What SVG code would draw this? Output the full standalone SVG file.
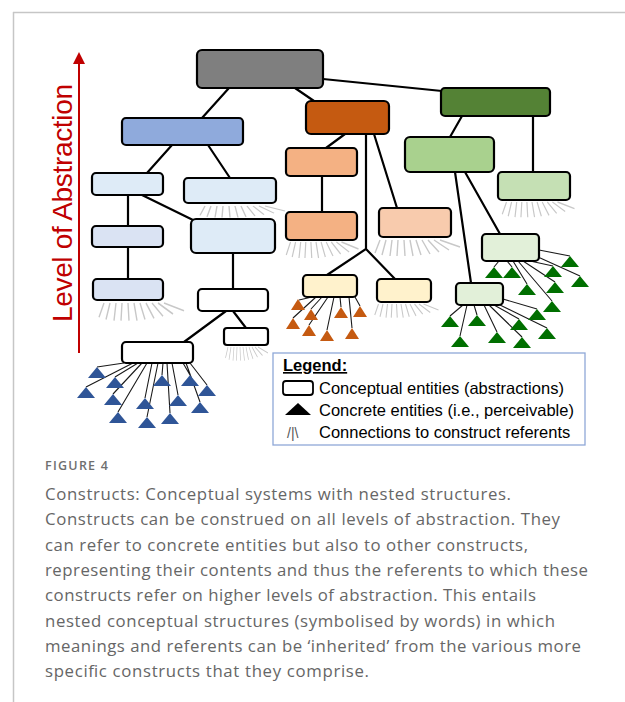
<svg xmlns="http://www.w3.org/2000/svg" xmlns:xlink="http://www.w3.org/1999/xlink" width="625" height="702" viewBox="0 0 625 702">
<style>
.node rect{stroke:#000;stroke-width:2.2}
.edge{fill:none;stroke:#000;stroke-width:2.2}
.link{fill:none;stroke:#1a1a1a;stroke-width:1.1}
.fan{fill:none;stroke:#c8c8c8;stroke-width:1.4}
.frame{stroke:#c6c6c6;stroke-width:1.5}
.lg{font-family:"Liberation Sans",Arial,sans-serif;font-size:16.5px;fill:#000}
.cap{font-family:"Open Sans","Noto Sans",sans-serif;font-size:16.8px;fill:#666}
.tb{fill:#2f5597}.to{fill:#c55a11}.tg{fill:#006f00}
</style>
<defs>
<path id="fanp" d="M-30,0 l-5,13 M-24,0 l-4,15 M-18,0 l-2,16 M-12,0 l-1,16 M-6,0 l1,16 M0,0 l3,16 M6,0 l5,15 M12,0 l8,14 M18,0 l11,12 M24,0 l15,10 M30,0 l20,7"/>
<path id="tri" d="M0,-6 L9,5 L-9,5 Z"/>
<path id="tris" d="M0,-6 L7,5 L-7,5 Z"/>
</defs>
<rect width="625" height="702" fill="#fff"/>
<line class="frame" x1="13" y1="12.5" x2="625" y2="12.5"/>
<line class="frame" x1="13.5" y1="12" x2="13.5" y2="702"/>

<g id="axis">
<line x1="79" y1="62" x2="79" y2="353" stroke="#c00000" stroke-width="2"/>
<path d="M79,52 L85,64 L73,64 Z" fill="#c00000"/>
<text transform="translate(72,203) rotate(-90)" text-anchor="middle" font-family="Liberation Sans, Arial, sans-serif" font-size="28" fill="#c00000" textLength="238">Level of Abstraction</text>
</g>

<g id="connectors">
<path class="edge" d="M229,88 L202,118 M295,88 L314,101 M323,79 L442,91 M172,145 L147,173 M208,145 L230,178 M128,195 L128,226 M142,195 L193,220 M128,247 L128,279 M233,253 L233,289 M226,311 L184,342 M233,311 L246,328 M345,134 L326,148 M322,176 L322,212 M374,134 L397,208 M366,134 L366,249 L327,275 M366,249 L395,279 M462,116 L450,137 M533,116 L533,172 M455,172 L471,283 M465,172 L500,234"/>
<g class="fan">
<use href="#fanp" transform="translate(235,206) scale(1,0.72)"/>
<use href="#fanp" transform="translate(134,303) scale(1,1.1)"/>
<use href="#fanp" transform="translate(316,242) scale(0.85,1)"/>
<use href="#fanp" transform="translate(410,240)"/>
<use href="#fanp" transform="translate(401,304) scale(0.75,0.85)"/>
<use href="#fanp" transform="translate(532,202) scale(0.85,0.95)"/>
<use href="#fanp" transform="translate(243,347) scale(0.5,0.85)"/>
</g>
<path class="link" d="M124,363 L97,367 M133,363 L86,387 M138,363 L115,377 M142,363 L113,394 M147,363 L118,412 M152,363 L145,398 M158,363 L147,417 M163,363 L162,375 M167,363 L170,413 M172,363 L178,395 M183,363 L190,375 M186,363 L200,402 M190,363 L207,385"/>
<path class="link" d="M312,297 L299,300 M316,297 L293,318 M322,297 L311,309 M328,297 L309,325 M334,297 L327,330 M340,297 L341,307 M349,297 L352,328 M355,297 L360,306"/>
<path class="link" d="M499,261 L494,267 M507,261 L512,267 M513,261 L527,284 M518,261 L552,301 M523,261 L555,282 M530,261 L553,266 M538,257 L580,276 M539,250 L570,256"/>
<path class="link" d="M463,305 L450,316 M467,305 L460,336 M474,305 L477,315 M484,305 L497,332 M489,305 L522,337 M494,305 L519,319 M500,305 L547,328 M503,299 L537,309"/>
</g>

<g id="n-top" class="node"><rect x="197" y="50" width="126" height="38" rx="5" fill="#7f7f7f"/></g>
<g id="n-blue" class="node"><rect x="122" y="118" width="121" height="27" rx="4" fill="#8faadc"/></g>
<g id="n-b1" class="node"><rect x="92" y="173" width="71" height="22" rx="4" fill="#deebf7"/></g>
<g id="n-b2" class="node"><rect x="184" y="178" width="92" height="25" rx="4" fill="#deebf7"/></g>
<g id="n-b3" class="node"><rect x="92" y="226" width="71" height="21" rx="4" fill="#dae3f3"/></g>
<g id="n-b4" class="node"><rect x="191" y="219" width="84" height="34" rx="5" fill="#deebf7"/></g>
<g id="n-b5" class="node"><rect x="93" y="279" width="70" height="21" rx="4" fill="#dae3f3"/></g>
<g id="n-w1" class="node"><rect x="198" y="289" width="70" height="22" rx="4" fill="#fff"/></g>
<g id="n-w2" class="node"><rect x="224" y="328" width="44" height="17" rx="3" fill="#fff"/></g>
<g id="n-w3" class="node"><rect x="122" y="342" width="71" height="21" rx="4" fill="#fff"/></g>
<g id="n-orange" class="node"><rect x="306" y="101" width="83" height="33" rx="5" fill="#c55a11"/></g>
<g id="n-o1" class="node"><rect x="286" y="148" width="71" height="28" rx="4" fill="#f4b183"/></g>
<g id="n-o2" class="node"><rect x="286" y="212" width="71" height="28" rx="4" fill="#f4b183"/></g>
<g id="n-o3" class="node"><rect x="379" y="208" width="72" height="29" rx="4" fill="#f8cbad"/></g>
<g id="n-y1" class="node"><rect x="303" y="275" width="54" height="22" rx="4" fill="#fff2cc"/></g>
<g id="n-y2" class="node"><rect x="377" y="279" width="54" height="23" rx="4" fill="#fff2cc"/></g>
<g id="n-green" class="node"><rect x="441" y="88" width="109" height="28" rx="4" fill="#548235"/></g>
<g id="n-g1" class="node"><rect x="405" y="137" width="89" height="35" rx="5" fill="#a9d18e"/></g>
<g id="n-g2" class="node"><rect x="498" y="172" width="72" height="28" rx="4" fill="#c5e0b4"/></g>
<g id="n-g3" class="node"><rect x="482" y="234" width="57" height="27" rx="4" fill="#e2f0d9"/></g>
<g id="n-g4" class="node"><rect x="456" y="283" width="47" height="22" rx="4" fill="#e2f0d9"/></g>

<g id="concrete-blue" class="tb">
<use href="#tri" x="97" y="373"/><use href="#tri" x="86" y="393"/><use href="#tri" x="115" y="383"/><use href="#tri" x="113" y="400"/><use href="#tri" x="118" y="418"/><use href="#tri" x="145" y="404"/><use href="#tri" x="147" y="423"/><use href="#tri" x="162" y="381"/><use href="#tri" x="170" y="419"/><use href="#tri" x="178" y="401"/><use href="#tri" x="190" y="381"/><use href="#tri" x="200" y="408"/><use href="#tri" x="207" y="391"/>
</g>
<g id="concrete-orange" class="to">
<use href="#tris" x="298" y="305"/><use href="#tris" x="293" y="324"/><use href="#tris" x="311" y="315"/><use href="#tris" x="309" y="331"/><use href="#tris" x="327" y="336"/><use href="#tris" x="341" y="313"/><use href="#tris" x="352" y="334"/><use href="#tris" x="360" y="312"/>
</g>
<g id="concrete-green-a" class="tg">
<use href="#tri" x="494" y="273"/><use href="#tri" x="512" y="273"/><use href="#tri" x="527" y="290"/><use href="#tri" x="552" y="307"/><use href="#tri" x="555" y="288"/><use href="#tri" x="553" y="272"/><use href="#tri" x="580" y="282"/><use href="#tri" x="570" y="262"/>
</g>
<g id="concrete-green-b" class="tg">
<use href="#tri" x="450" y="322"/><use href="#tri" x="460" y="342"/><use href="#tri" x="477" y="321"/><use href="#tri" x="497" y="338"/><use href="#tri" x="522" y="343"/><use href="#tri" x="519" y="325"/><use href="#tri" x="547" y="334"/><use href="#tri" x="537" y="315"/>
</g>

<g id="legend">
<rect x="273" y="353" width="312" height="92" fill="#fff" stroke="#8fa8d8" stroke-width="1.3"/>
<text class="lg" x="283" y="371" font-weight="bold" text-decoration="underline">Legend:</text>
<rect x="283" y="381" width="30" height="14" rx="3" fill="#fff" stroke="#000" stroke-width="1.8"/>
<text class="lg" x="319" y="394">Conceptual entities (abstractions)</text>
<path d="M298,403 L311,415 L285,415 Z" fill="#000"/>
<text class="lg" x="319" y="416">Concrete entities (i.e., perceivable)</text>
<text x="287" y="438" font-family="Liberation Sans, Arial, sans-serif" font-size="14" fill="#555">/|\</text>
<text class="lg" x="319" y="438">Connections to construct referents</text>
</g>

<g id="caption">
<text x="45" y="470" font-family="Open Sans, Noto Sans, sans-serif" font-size="12.5" font-weight="600" fill="#6f6f6f" textLength="63">FIGURE 4</text>
<text class="cap" x="45" y="500" textLength="466">Constructs: Conceptual systems with nested structures.</text>
<text class="cap" x="45" y="525" textLength="515">Constructs can be construed on all levels of abstraction. They</text>
<text class="cap" x="45" y="551" textLength="483">can refer to concrete entities but also to other constructs,</text>
<text class="cap" x="45" y="576" textLength="543">representing their contents and thus the referents to which these</text>
<text class="cap" x="45" y="601" textLength="491">constructs refer on higher levels of abstraction. This entails</text>
<text class="cap" x="45" y="627" textLength="510">nested conceptual structures (symbolised by words) in which</text>
<text class="cap" x="45" y="652" textLength="536">meanings and referents can be ‘inherited’ from the various more</text>
<text class="cap" x="45" y="677" textLength="324">specific constructs that they comprise.</text>
</g>
</svg>
